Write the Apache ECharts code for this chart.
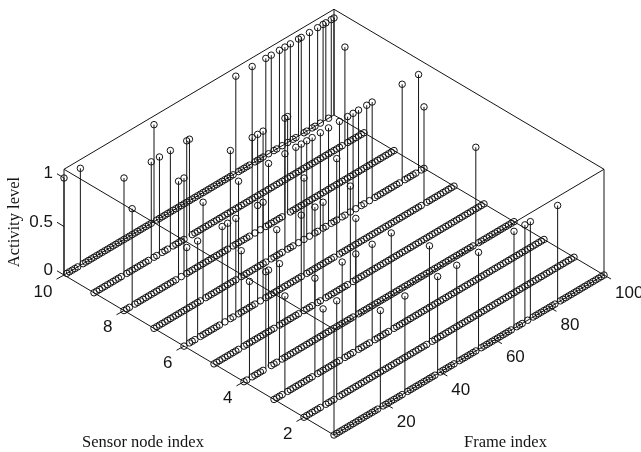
<!DOCTYPE html>
<html>
<head>
<meta charset="utf-8">
<style>html,body{margin:0;padding:0;background:#fff}#c{width:641px;height:452px}</style>
<script src="https://cdn.jsdelivr.net/npm/echarts@6/dist/echarts.min.js"></script>
</head>
<body>
<div id="c"></div>
<script>
// Active frames (activity level 1) per sensor node; all other frames are level 0
const node1 = [18,27,39,46,54,67,71,73,83];
const node2 = [8,13,47];
const node3 = [5,16,26,31,37,44];
const node4 = [3,9,10,14,42,86];
const node5 = [11,24,33,38,41,51];
const node6 = [2,6,15,17,20,28,30,45,57,89];
const node7 = [19,32,43,49,53,55,57,59,62,65,69,72,74,76,79,81,92,98];
const node8 = [4,21,23,40,48,50,52,60,61];
const node9 = [12,22,25,29,35,36,93];
const node10 = [1,7,34,64,70,75,77,80,82,84,87,88,91,94,96,97,99,100];
const activeByNode = [node1,node2,node3,node4,node5,node6,node7,node8,node9,node10];
const frameTicks = [20,40,60,80,100];
const nodeTicks = [2,4,6,8,10];
const levelTicks = [0,0.5,1];
const levelLabels = ['0','0.5','1'];
const FRAME_MIN = 1, FRAME_MAX = 100, NODE_MIN = 1, NODE_MAX = 10, LEVEL_MAX = 1.09;

// Axonometric projection of the 3D axes on the plane of the hidden cartesian axes
const O = {x:334, y:435}, SF = {x:270/99, y:160/99}, SN = {x:30, y:160/9}, SZ = 97;
function project(f, n, z) {
  const a = f - FRAME_MIN, b = n - NODE_MIN;
  return [O.x + a*SF.x - b*SN.x, O.y - a*SF.y - b*SN.y - z*SZ];
}

const ink = '#141414';
const markers = [], stems = [];
for (let n = NODE_MIN; n <= NODE_MAX; n++) {
  const act = activeByNode[n-1];
  for (let f = FRAME_MIN; f <= FRAME_MAX; f++) {
    const level = act.includes(f) ? 1 : 0;
    markers.push(project(f, n, level));
    if (level) stems.push([f, n, level]);
  }
}
const A = [FRAME_MIN,NODE_MIN], B = [FRAME_MAX,NODE_MIN], C = [FRAME_MAX,NODE_MAX], D = [FRAME_MIN,NODE_MAX];
const edges = [];
[[A,B],[B,C],[C,D],[D,A]].forEach(([p,q]) => {
  edges.push([...p,0,...q,0]);
  edges.push([...p,LEVEL_MAX,...q,LEVEL_MAX]);
});
[A,B,C,D].forEach(p => edges.push([...p,0,...p,LEVEL_MAX]));

const font = '"Liberation Sans", Arial, sans-serif';
const serif = '"Liberation Serif", "Times New Roman", serif';
// tick: [type, value, label]
const ticks = [];
frameTicks.forEach(f => ticks.push(['f', f, String(f)]));
nodeTicks.forEach(n => ticks.push(['n', n, String(n)]));
levelTicks.forEach((z,i) => ticks.push(['z', z, levelLabels[i]]));

function lineEl(api, p, q, w) {
  const a = api.coord(p), b = api.coord(q);
  return {type:'line', shape:{x1:a[0],y1:a[1],x2:b[0],y2:b[1]}, style:{stroke:ink, lineWidth:w||1, fill:null}};
}

const chart = echarts.init(document.getElementById('c'), null, {renderer:'canvas'});
chart.setOption({
  animation:false,
  backgroundColor:'#fff',
  grid:{left:0,right:0,top:0,bottom:0},
  xAxis:{type:'value',min:0,max:641,show:false},
  yAxis:{type:'value',min:0,max:452,inverse:true,show:false},
  graphic:[
    {type:'text',left:82,top:434,silent:true,style:{text:'Sensor node index',font:'16.5px '+serif,fill:ink}},
    {type:'text',left:464,top:434,silent:true,style:{text:'Frame index',font:'16.5px '+serif,fill:ink}},
    {type:'text',x:15,y:222,rotation:Math.PI/2,silent:true,style:{text:'Activity level',font:'16.5px '+serif,fill:ink,align:'center',verticalAlign:'middle'}}
  ],
  series:[
    {type:'custom',name:'box',coordinateSystem:'cartesian2d',silent:true,clip:false,z:1,
     data:edges,
     renderItem:(p,api)=>lineEl(api,
       project(api.value(0),api.value(1),api.value(2)),
       project(api.value(3),api.value(4),api.value(5)))},
    {type:'custom',name:'ticks',coordinateSystem:'cartesian2d',silent:true,clip:false,z:1,
     encode:{x:[],y:[]},
     data:ticks.map((t,i)=>[i]),
     renderItem:(p,api)=>{
       const [kind,val,label] = ticks[api.value(0)];
       let base, tip, tx, ty, align;
       if (kind==='f') { base=project(val,NODE_MIN,0); tip=[base[0]+7,base[1]+4]; tx=base[0]+11; ty=base[1]+18; align='left'; }
       else if (kind==='n') { base=project(FRAME_MIN,val,0); tip=[base[0]-7.5,base[1]+4.2]; tx=base[0]-11.5; ty=base[1]+17; align='right'; }
       else { base=project(FRAME_MIN,NODE_MAX,val); tip=[base[0]-7,base[1]-4.2]; tx=53; ty=base[1]-4.5; align='right'; }
       const c = api.coord([tx,ty]);
       return {type:'group',children:[
         lineEl(api,base,tip),
         {type:'text',x:c[0],y:c[1],style:{text:label,font:'17px '+font,fill:ink,align:align,verticalAlign:'middle'}}
       ]};
     }},
    {type:'custom',name:'stems',coordinateSystem:'cartesian2d',silent:true,clip:false,z:2,
     data:stems,
     renderItem:(p,api)=>{
       const f=api.value(0),n=api.value(1),z=api.value(2);
       return lineEl(api,project(f,n,0),project(f,n,z));
     }},
    {type:'scatter',name:'levels',silent:true,clip:false,z:3,
     symbol:'circle',symbolSize:6.5,
     itemStyle:{color:'rgba(255,255,255,0)',borderColor:ink,borderWidth:1,opacity:1},
     data:markers}
  ]
});
</script>
</body>
</html>
